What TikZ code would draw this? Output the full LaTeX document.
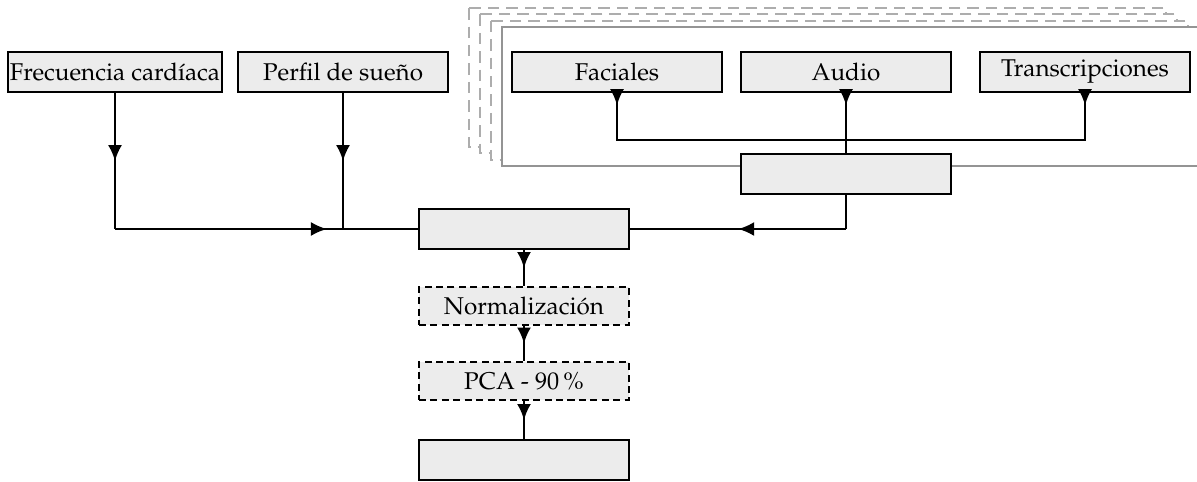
\documentclass[tikz,border=0pt]{standalone}
\usepackage[T1]{fontenc}
\usepackage{mathpazo}
\usetikzlibrary{arrows.meta,decorations.markings}

\begin{document}
\begin{tikzpicture}[
        x=0.02cm, y=-0.02cm,
        font=\fontsize{13.8}{16}\selectfont,
        block/.style={
            rectangle, draw=black, line width=1.4pt,
            fill=gray!15, minimum width=4.2cm,
            minimum height=0.8cm, inner sep=1pt, align=center
        },
        stepblock/.style={
            block, dash pattern=on 4pt off 2.5pt,
            minimum height=0.76cm
        },
        frame/.style={draw=black!42, line width=1.1pt, fill=white},
        ghost/.style={frame, draw=black!32, dash pattern=on 6.5pt off 4pt},
        link/.style={line width=1.3pt},
        midarrow/.style={link, postaction={decorate},
            decoration={markings, mark=at position #1 with
                {\arrow{Latex[length=3.2mm,width=2.8mm]}}}},
        midarrow/.default=0.5
    ]

    \useasboundingbox (0,0) rectangle (1197,481);

    % Stacked frames (video samples)
    \foreach \d in {3,2,1}
        \draw[ghost] (502-11*\d, 27-6.3*\d) rectangle (1199-11*\d, 166-6.3*\d);
    \draw[frame] (502, 27) rectangle (1199, 166);

    % Sensor inputs
    \node[block] (fc) at (115, 72) {Frecuencia card\'{\i}aca};
    \node[block] (ps) at (343, 72) {Perfil de sue\~no};

    % Video modalities
    \node[block] (fac) at (617, 72) {Faciales};
    \node[block] (aud) at (846, 72) {Audio};
    \node[block] (tra) at (1085, 72) {Transcripciones};
    \node[block] (enc) at (846, 174) {};

    % Fusion and pipeline
    \node[block] (fus) at (524, 229) {};
    \node[stepblock] (nor) at (524, 306) {Normalizaci\'on};
    \node[stepblock] (pca) at (524, 381) {PCA - 90\,\%};
    \node[block] (out) at (524, 460) {};

    % Sensors to fusion
    \coordinate (fcj) at (fc.south |- fus.west);
    \draw[midarrow] (fc.south) -- (fcj);
    \draw[midarrow=0.7] (fcj) -- (fus.west);
    \draw[midarrow] (ps.south) -- (ps.south |- fus.west);

    % Modalities to encoder
    \coordinate (bus) at (aud.south |- 0, 140);
    \draw[midarrow=0.24cm] (fac.south) |- (bus);
    \draw[midarrow=0.24cm] (tra.south) |- (bus);
    \draw[midarrow=0.24cm] (aud.south) -- (enc.north);

    % Encoder to fusion
    \coordinate (encj) at (enc.south |- fus.east);
    \draw[link] (enc.south) -- (encj);
    \draw[midarrow] (encj) -- (fus.east);

    % Pipeline
    \draw[midarrow] (fus.south) -- (nor.north);
    \draw[midarrow] (nor.south) -- (pca.north);
    \draw[midarrow] (pca.south) -- (out.north);

\end{tikzpicture}
\end{document}
